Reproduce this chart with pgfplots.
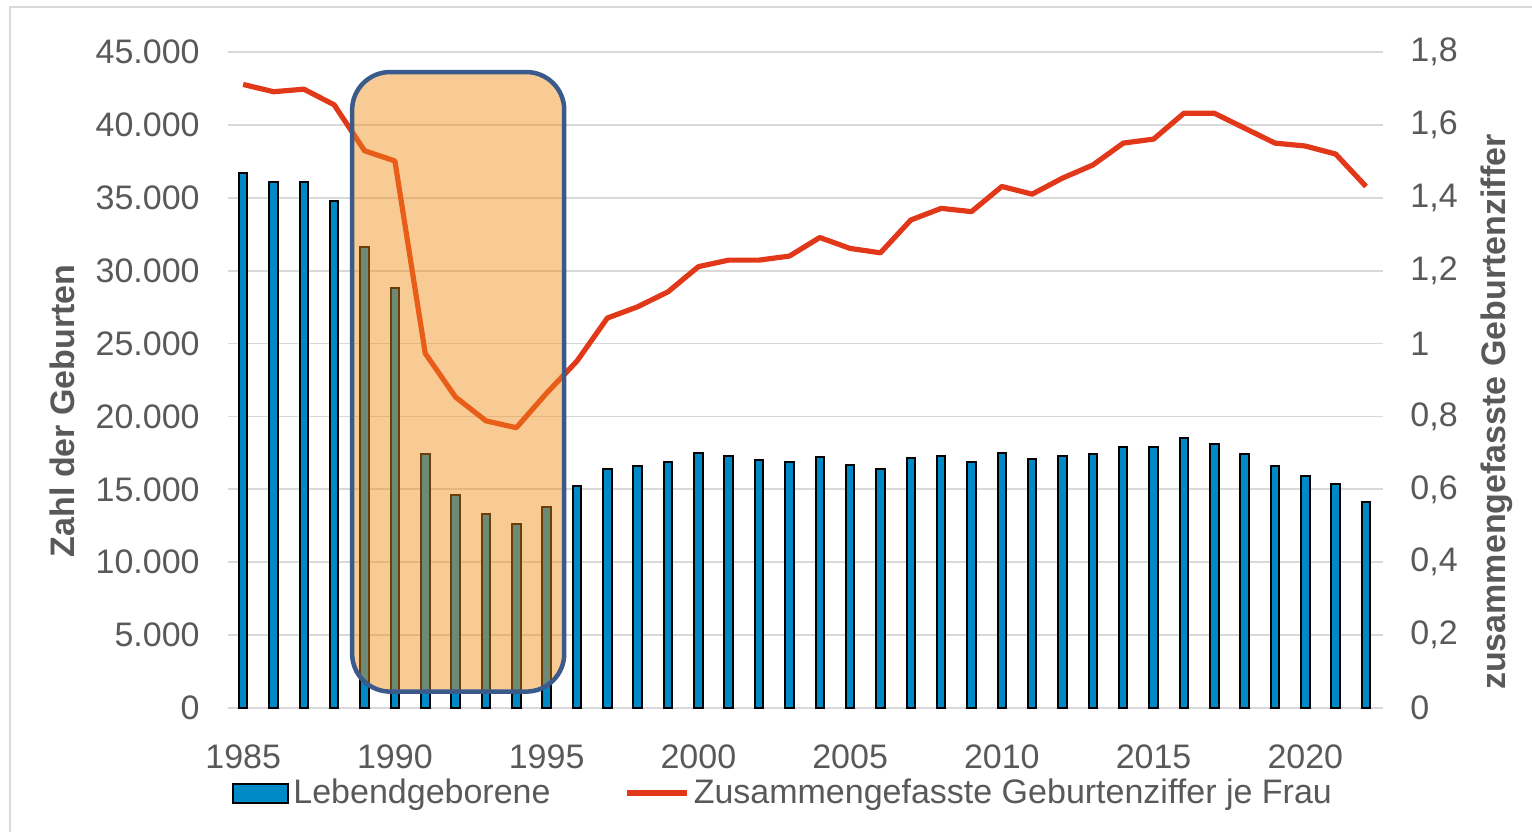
\documentclass[border=0pt]{standalone}
\usepackage{pgfplots}
\pgfplotsset{compat=1.18}
\usepackage{fontspec}
\setmainfont{Liberation Sans}
\definecolor{txt}{RGB}{89,89,89}
\definecolor{barblue}{RGB}{0,137,199}
\definecolor{linered}{RGB}{226,56,26}
\definecolor{gridgray}{RGB}{217,217,217}
\definecolor{boxfill}{RGB}{240,140,20}
\definecolor{boxdraw}{RGB}{58,90,140}
\newcommand\lbl{\fontsize{17}{20.4}\selectfont}

\pgfplotstableread{
year births
1985 36700
1986 36100
1987 36100
1988 34800
1989 31600
1990 28800
1991 17400
1992 14600
1993 13300
1994 12600
1995 13800
1996 15250
1997 16400
1998 16600
1999 16900
2000 17500
2001 17300
2002 17000
2003 16900
2004 17200
2005 16700
2006 16400
2007 17150
2008 17300
2009 16900
2010 17500
2011 17050
2012 17300
2013 17400
2014 17900
2015 17900
2016 18500
2017 18100
2018 17400
2019 16600
2020 15900
2021 15350
2022 14100
}\births

\pgfplotstableread{
year tfr
1985 1.711
1986 1.691
1987 1.698
1988 1.655
1989 1.529
1990 1.501
1991 0.973
1992 0.853
1993 0.788
1994 0.769
1995 0.864
1996 0.952
1997 1.070
1998 1.101
1999 1.142
2000 1.211
2001 1.229
2002 1.229
2003 1.240
2004 1.291
2005 1.261
2006 1.249
2007 1.339
2008 1.371
2009 1.362
2010 1.431
2011 1.410
2012 1.454
2013 1.490
2014 1.550
2015 1.561
2016 1.632
2017 1.632
2018 1.591
2019 1.550
2020 1.542
2021 1.520
2022 1.431
}\tfr

\begin{document}
\begin{tikzpicture}
\useasboundingbox (-114pt,-62pt) rectangle (652pt,354pt);
\draw[gridgray, line width=1pt] (-109pt,-62pt) -- (-109pt,350.5pt) -- (652pt,350.5pt);
\begin{axis}[
  at={(0,0)}, anchor=south west,
  scale only axis, width=577.5pt, height=328pt,
  xmin=1984.5, xmax=2022.56, ymin=0, ymax=45000,
  scaled y ticks=false,
  ybar, bar width=0.28,
  axis line style={draw=none},
  tick style={draw=none},
  ymajorgrids, grid style={gridgray, line width=0.85pt},
  ytick={0,5000,10000,15000,20000,25000,30000,35000,40000,45000},
  yticklabels={0,5.000,10.000,15.000,20.000,25.000,30.000,35.000,40.000,45.000},
  xtick={1985,1990,1995,2000,2005,2010,2015,2020},
  xticklabels={1985,1990,1995,2000,2005,2010,2015,2020},
  xticklabel style={font=\lbl, text=txt, inner sep=0pt, anchor=north, yshift=-14pt},
  yticklabel style={font=\lbl, text=txt, inner sep=0pt, anchor=east, xshift=-14pt},
  ylabel={Zahl der Geburten},
  ylabel style={font=\lbl\bfseries, text=txt, at={(axis description cs:-0.1437,0.453)}, anchor=center},
]
\addplot[fill=barblue, draw=black, line width=1pt] table[x=year, y=births] {\births};
\end{axis}
\begin{axis}[
  at={(0,0)}, anchor=south west,
  scale only axis, width=577.5pt, height=328pt,
  xmin=1984.5, xmax=2022.56, ymin=0, ymax=1.8,
  axis y line*=right, axis x line=none,
  axis line style={draw=none},
  tick style={draw=none},
  ytick={0,0.2,0.4,0.6,0.8,1,1.2,1.4,1.6,1.8},
  yticklabels={0,{0,2},{0,4},{0,6},{0,8},1,{1,2},{1,4},{1,6},{1,8}},
  yticklabel style={font=\lbl, text=txt, inner sep=0pt, anchor=west, xshift=13.5pt},
  ylabel={zusammengefasste Geburtenziffer},
  ylabel style={font=\lbl\bfseries, text=txt, at={(axis description cs:1.0987,0.451)}, anchor=center},
  legend columns=2,
  legend style={at={(axis description cs:0.0035,-0.1296)}, anchor=west, draw=none, fill=none, inner sep=0pt, font=\lbl, text=txt,
    /tikz/every even column/.append style={column sep=35pt}},
]
\addlegendimage{legend image code/.code={\draw[fill=barblue, draw=black, line width=1pt] (0pt,-4.75pt) rectangle (27.5pt,4.75pt);}}
\addlegendentry{Lebendgeborene}
\addplot[linered, line width=2.6pt, line join=round, mark=none,
  legend image code/.code={\draw[linered, line width=2.6pt] (0pt,0pt) -- (30pt,0pt);}]
  table[x=year, y=tfr] {\tfr};
\addlegendentry{Zusammengefasste Geburtenziffer je Frau}
\draw[boxdraw, line width=2.25pt, fill=boxfill, fill opacity=0.45, rounded corners=19pt]
  (axis cs:1988.59,1.745) rectangle (axis cs:1995.58,0.045);
\end{axis}
\end{tikzpicture}
\end{document}
